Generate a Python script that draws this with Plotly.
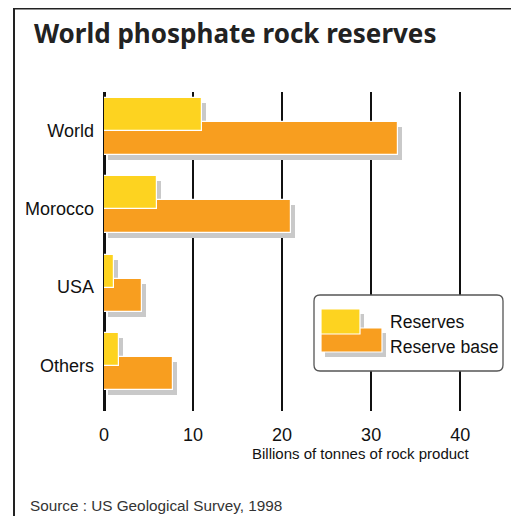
import plotly.graph_objects as go

# ---- data ----
categories = ["World", "Morocco", "USA", "Others"]
reserves = [11.0, 5.9, 1.1, 1.7]
reserve_base = [33.0, 21.0, 4.3, 7.8]
x_ticks = [0, 10, 20, 30, 40]
title_text = "World phosphate rock reserves"
x_title = "Billions of tonnes of rock product"
source_text = "Source : US Geological Survey, 1998"
legend_names = ["Reserves", "Reserve base"]

# ---- styling ----
PAGE_OFF = 8                       # browser body margin
W, H = 519 - PAGE_OFF, 516 - PAGE_OFF
YELLOW = "#FDD320"
ORANGE = "#F89E1F"
SHADOW = "#C9C9C9"

# plot area in reference-page pixels
L, R, T, B = 104, 478, 92, 411
XMAX = 42.0
x_scale = (R - L) / XMAX
y_lo, y_hi = -0.492, 3.584
y_scale = (B - T) / (y_hi - y_lo)

def px(x):
    return (x - L) / (R - L)

def py(y):
    return (B - y) / (B - T)

pos = list(range(len(categories)))
bar_w = 0.422
off_res = -0.415
off_base = -0.109
dx = 4 / x_scale
dy = 5 / y_scale

fig = go.Figure()
fig.add_trace(go.Bar(y=pos, x=reserves, base=dx, orientation="h", offset=off_res + dy,
                     width=bar_w, marker=dict(color=SHADOW, line=dict(width=0)),
                     hoverinfo="skip", showlegend=False))
fig.add_trace(go.Bar(y=pos, x=reserve_base, base=dx, orientation="h", offset=off_base + dy,
                     width=bar_w, marker=dict(color=SHADOW, line=dict(width=0)),
                     hoverinfo="skip", showlegend=False))
fig.add_trace(go.Bar(y=pos, x=reserve_base, orientation="h", offset=off_base, width=bar_w,
                     name=legend_names[1],
                     marker=dict(color=ORANGE, line=dict(color="white", width=1.2)),
                     showlegend=False))
fig.add_trace(go.Bar(y=pos, x=reserves, orientation="h", offset=off_res, width=bar_w,
                     name=legend_names[0],
                     marker=dict(color=YELLOW, line=dict(color="white", width=1.2)),
                     showlegend=False))

shapes = []
shapes.append(dict(type="line", xref="paper", yref="paper", x0=px(14), x1=px(14),
                   y0=py(8.5), y1=py(530), line=dict(color="#222", width=2)))
shapes.append(dict(type="line", xref="paper", yref="paper", x0=px(13), x1=px(530),
                   y0=py(8.5), y1=py(8.5), line=dict(color="#222", width=2)))

bx0, bx1, by0, by1, r = 314, 503, 295, 371, 6
path = (f"M {px(bx0 + r)},{py(by0)} L {px(bx1 - r)},{py(by0)} "
        f"Q {px(bx1)},{py(by0)} {px(bx1)},{py(by0 + r)} "
        f"L {px(bx1)},{py(by1 - r)} Q {px(bx1)},{py(by1)} {px(bx1 - r)},{py(by1)} "
        f"L {px(bx0 + r)},{py(by1)} Q {px(bx0)},{py(by1)} {px(bx0)},{py(by1 - r)} "
        f"L {px(bx0)},{py(by0 + r)} Q {px(bx0)},{py(by0)} {px(bx0 + r)},{py(by0)} Z")
shapes.append(dict(type="path", xref="paper", yref="paper", path=path,
                   fillcolor="white", line=dict(color="#555", width=1.3), layer="above"))

def rect(x0, y0, x1, y1, color, line=None):
    return dict(type="rect", xref="paper", yref="paper", x0=px(x0), x1=px(x1),
                y0=py(y0), y1=py(y1), fillcolor=color, layer="above",
                line=dict(width=0) if line is None else line)

shapes.append(rect(325, 314, 364, 339, SHADOW))
shapes.append(rect(325, 333, 386, 357, SHADOW))
shapes.append(rect(321, 328, 382, 352, ORANGE, dict(color="white", width=1.2)))
shapes.append(rect(321, 309, 360, 334, YELLOW, dict(color="white", width=1.2)))

annotations = [
    dict(text=title_text, xref="paper", yref="paper", x=px(32), y=py(33),
         xanchor="left", yanchor="middle", showarrow=False,
         font=dict(family="Noto Sans", size=26, color="#222", weight="bold")),
    dict(text=x_title, xref="paper", yref="paper", x=px(361), y=py(453),
         xanchor="center", yanchor="middle", showarrow=False,
         font=dict(family="Liberation Sans, Arial", size=15, color="#111")),
    dict(text=source_text, xref="paper", yref="paper", x=px(28), y=py(505),
         xanchor="left", yanchor="middle", showarrow=False,
         font=dict(family="Liberation Sans, Arial", size=15.3, color="#333")),
    dict(text=legend_names[0], xref="paper", yref="paper", x=px(388), y=py(322),
         xanchor="left", yanchor="middle", showarrow=False,
         font=dict(family="Liberation Sans, Arial", size=17.6, color="#111")),
    dict(text=legend_names[1], xref="paper", yref="paper", x=px(388), y=py(347),
         xanchor="left", yanchor="middle", showarrow=False,
         font=dict(family="Liberation Sans, Arial", size=17.6, color="#111")),
]

fig.update_layout(
    width=W, height=H,
    margin=dict(l=L - PAGE_OFF, r=519 - R, t=T - PAGE_OFF, b=516 - B, pad=0),
    paper_bgcolor="white", plot_bgcolor="white",
    barmode="overlay", bargap=0,
    showlegend=False,
    shapes=shapes, annotations=annotations,
    font=dict(family="Liberation Sans, Arial", color="#111"),
    xaxis=dict(range=[0, XMAX], tickvals=x_ticks, ticktext=[str(v) for v in x_ticks],
               showgrid=True, gridcolor="#111", gridwidth=2,
               zeroline=True, zerolinecolor="#111", zerolinewidth=3,
               showline=False, ticks="", ticklabelstandoff=11,
               tickfont=dict(size=18, color="#111"), fixedrange=True),
    yaxis=dict(range=[y_hi, y_lo], tickvals=pos, ticktext=categories,
               showgrid=False, zeroline=False, showline=False, ticks="",
               ticklabelstandoff=9, tickfont=dict(size=18, color="#111"),
               fixedrange=True),
)

fig.write_html("out.html")
